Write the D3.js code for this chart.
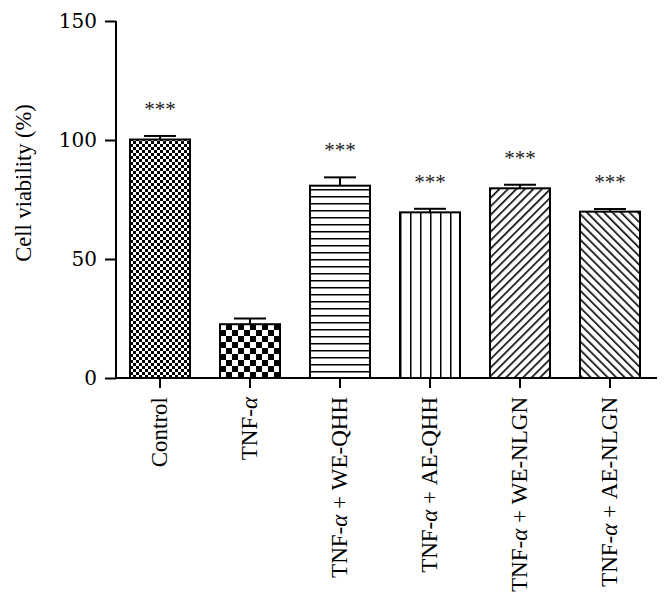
<!DOCTYPE html>
<html>
<head>
<meta charset="utf-8">
<script src="https://d3js.org/d3.v7.min.js"></script>
<style>
  body { margin: 0; background: #fff; }
  text { font-family: "Liberation Serif", "Times New Roman", serif; fill: #000; }
</style>
</head>
<body>
<svg id="chart" width="670" height="601"></svg>
<script>
const categories = ["Control", "TNF-α", "TNF-α + WE-QHH", "TNF-α + AE-QHH", "TNF-α + WE-NLGN", "TNF-α + AE-NLGN"];
const values = [100.2, 22.6, 80.8, 69.6, 79.7, 69.9];
const errors = [1.5, 2.4, 3.5, 1.5, 1.5, 1.1];
const significance = ["***", "", "***", "***", "***", "***"];
const yTicks = [0, 50, 100, 150];
const patternIds = ["pFineCheck", "pBigCheck", "pHoriz", "pVert", "pDiagUp", "pDiagDown"];

const svg = d3.select("#chart");
const defs = svg.append("defs");

// Fine checkerboard
let p = defs.append("pattern").attr("id", "pFineCheck").attr("patternUnits", "userSpaceOnUse")
  .attr("width", 6).attr("height", 6).attr("x", 130).attr("y", 0);
p.append("rect").attr("width", 6).attr("height", 6).attr("fill", "#fff");
p.append("rect").attr("width", 3).attr("height", 3).attr("fill", "#000");
p.append("rect").attr("x", 3).attr("y", 3).attr("width", 3).attr("height", 3).attr("fill", "#000");

// Big checkerboard
p = defs.append("pattern").attr("id", "pBigCheck").attr("patternUnits", "userSpaceOnUse")
  .attr("width", 12).attr("height", 12).attr("x", 220).attr("y", 378);
p.append("rect").attr("width", 12).attr("height", 12).attr("fill", "#fff");
p.append("rect").attr("width", 6).attr("height", 6).attr("fill", "#000");
p.append("rect").attr("x", 6).attr("y", 6).attr("width", 6).attr("height", 6).attr("fill", "#000");

// Horizontal lines
p = defs.append("pattern").attr("id", "pHoriz").attr("patternUnits", "userSpaceOnUse")
  .attr("width", 10).attr("height", 7).attr("y", 378);
p.append("rect").attr("width", 10).attr("height", 7).attr("fill", "#fff");
p.append("line").attr("x1", 0).attr("x2", 10).attr("y1", 0).attr("y2", 0)
  .attr("stroke", "#000").attr("stroke-width", 3);

// Vertical lines
p = defs.append("pattern").attr("id", "pVert").attr("patternUnits", "userSpaceOnUse")
  .attr("width", 10).attr("height", 10).attr("x", 400);
p.append("rect").attr("width", 10).attr("height", 10).attr("fill", "#fff");
p.append("line").attr("x1", 0).attr("x2", 0).attr("y1", 0).attr("y2", 10)
  .attr("stroke", "#000").attr("stroke-width", 3);

// Diagonal "/"
p = defs.append("pattern").attr("id", "pDiagUp").attr("patternUnits", "userSpaceOnUse")
  .attr("width", 6).attr("height", 6).attr("patternTransform", "rotate(45)");
p.append("rect").attr("width", 6).attr("height", 6).attr("fill", "#fff");
p.append("line").attr("x1", 0).attr("x2", 0).attr("y1", 0).attr("y2", 6)
  .attr("stroke", "#000").attr("stroke-width", 3.2);

// Diagonal "\"
p = defs.append("pattern").attr("id", "pDiagDown").attr("patternUnits", "userSpaceOnUse")
  .attr("width", 6).attr("height", 6).attr("patternTransform", "rotate(-45)");
p.append("rect").attr("width", 6).attr("height", 6).attr("fill", "#fff");
p.append("line").attr("x1", 0).attr("x2", 0).attr("y1", 0).attr("y2", 6)
  .attr("stroke", "#000").attr("stroke-width", 3.2);

const x = d3.scaleBand().domain(categories).range([115, 655]).paddingInner(1/3).paddingOuter(1/6);
const y = d3.scaleLinear().domain([0, 150]).range([378, 21]);

// Bars
svg.append("g").selectAll("rect").data(categories).join("rect")
  .attr("x", d => x(d))
  .attr("y", (d, i) => y(values[i]))
  .attr("width", x.bandwidth())
  .attr("height", (d, i) => y(0) - y(values[i]))
  .attr("fill", (d, i) => `url(#${patternIds[i]})`)
  .attr("stroke", "#000").attr("stroke-width", 2);

// Error bars
const eg = svg.append("g").attr("stroke", "#000").attr("stroke-width", 2);
categories.forEach((c, i) => {
  const cx = x(c) + x.bandwidth() / 2;
  eg.append("line").attr("x1", cx).attr("x2", cx)
    .attr("y1", y(values[i])).attr("y2", y(values[i] + errors[i]));
  eg.append("line").attr("x1", cx - 16).attr("x2", cx + 16)
    .attr("y1", y(values[i] + errors[i])).attr("y2", y(values[i] + errors[i]));
});

// Significance stars
svg.append("g").selectAll("text").data(categories).join("text")
  .attr("x", d => x(d) + x.bandwidth() / 2)
  .attr("y", (d, i) => y(values[i] + errors[i]) - 20)
  .attr("text-anchor", "middle")
  .attr("font-size", 21)
  .style("fill", "#222")
  .text((d, i) => significance[i]);

// Y axis
const yAxis = svg.append("g").attr("transform", "translate(116,0)")
  .call(d3.axisLeft(y).tickValues(yTicks).tickSize(11).tickPadding(8));
yAxis.select(".domain").attr("stroke-width", 2).attr("d", `M0,${y(150)}V${y(0)}`);
yAxis.selectAll(".tick line").attr("stroke-width", 2);
yAxis.selectAll(".tick text").attr("font-size", 20).style("font-family", "'DejaVu Serif', serif");

// X axis
const xAxis = svg.append("g").attr("transform", `translate(0,${y(0)})`)
  .call(d3.axisBottom(x).tickSize(10).tickPadding(8));
xAxis.select(".domain").attr("stroke-width", 2).attr("d", "M116,0H657");
xAxis.selectAll(".tick line").attr("stroke-width", 2);
xAxis.selectAll(".tick text")
  .attr("font-size", 23)
  .attr("text-anchor", "end")
  .attr("transform", "rotate(-90)")
  .attr("x", -19).attr("y", 0).attr("dy", "0.32em")
  .each(function(d) {
    const t = d3.select(this);
    t.text(null);
    d.split(/(α)/).forEach(part => {
      if (!part) return;
      const s = t.append("tspan").text(part);
      if (part === "α") s.style("font-style", "italic");
    });
  });

// Y axis title
svg.append("text")
  .attr("transform", "translate(31,183) rotate(-90)")
  .attr("text-anchor", "middle")
  .attr("font-size", 22.5)
  .text("Cell viability (%)");
</script>
</body>
</html>
